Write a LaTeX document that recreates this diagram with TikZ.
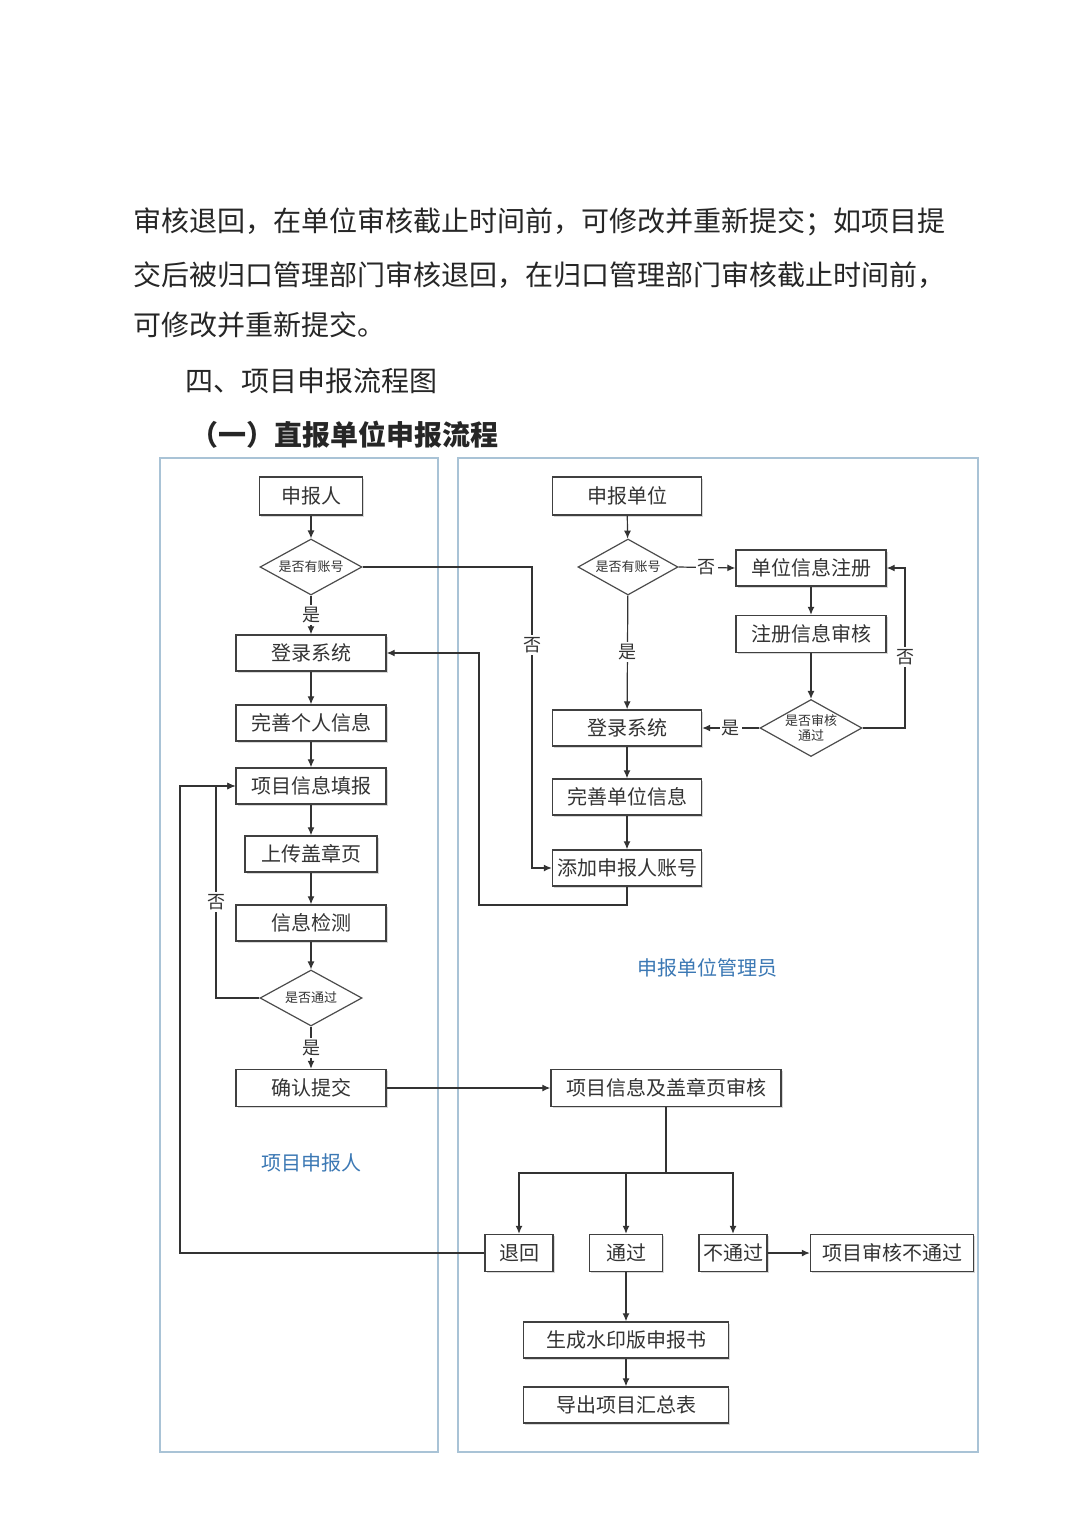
\documentclass[tikz,border=0pt]{standalone}
\usepackage{fontspec}
\newfontfamily\cjk{Noto Sans CJK SC}
\usetikzlibrary{shapes.geometric,arrows.meta,shadows}
\definecolor{lanec}{HTML}{A9C3D6}
\definecolor{bluec}{HTML}{3B78B4}
\begin{document}
\begin{tikzpicture}[x=0.5pt,y=-0.5pt,
 box/.style={draw=black!75, line width=0.7pt, fill=white, minimum height=18pt, inner sep=0pt,
   font=\cjk\fontsize{10}{12}\selectfont, text=black!80,
   drop shadow={shadow xshift=0.8pt, shadow yshift=-0.8pt, fill=black!30}},
 dia/.style={draw=black!70, line width=0.6pt, diamond, inner sep=0pt, minimum width=51pt, minimum height=28pt, fill=white},
 dtext/.style={font=\cjk\fontsize{6.5}{7.5}\selectfont, text=black!80, align=center, inner sep=0pt},
 lbl/.style={font=\cjk\fontsize{9}{10}\selectfont, fill=white, inner sep=1pt, text=black!80},
 line/.style={draw=black!80, line width=0.6pt},
 arr/.style={line, -{Latex[length=4pt,width=3.5pt]}},
 lane/.style={draw=lanec, line width=1pt},
 lanelbl/.style={font=\cjk\fontsize{10}{12}\selectfont, text=bluec},
 para/.style={font=\cjk\fontsize{14}{16}\selectfont, anchor=west, inner sep=0pt, text=black!85}]
\fill[white] (0,0) rectangle (1080,1527);
\useasboundingbox (0,0) rectangle (1080,1527);

% paragraph text
\node[para] (t1) at (133,222) {审核退回，在单位审核截止时间前，可修改并重新提交；如项目提};
\node[para] (t2) at (133,275) {交后被归口管理部门审核退回，在归口管理部门审核截止时间前，};
\node[para] (t3) at (133,325) {可修改并重新提交。};
\node[para] (h1) at (185,381) {四、项目申报流程图};
\node[para, font=\cjk\bfseries\fontsize{14}{16}\selectfont] (h2) at (190,435) {（一）直报单位申报流程};

% lanes
\draw[lane] (160,458) rectangle (438,1452);
\draw[lane] (458,458) rectangle (978,1452);
\node[lanelbl] (lane1) at (311,1163) {项目申报人};
\node[lanelbl] (lane2) at (707,968) {申报单位管理员};

% left column
\node[box, minimum width=51.5pt, minimum height=19pt] (p1) at (311,496) {申报人};
\node[dia] (d1) at (311,567) {};
\node[dtext] (d1t) at (d1) {是否有账号};
\node[box, minimum width=75pt] (login1) at (311,653) {登录系统};
\node[box, minimum width=75pt] (perf1) at (311,723) {完善个人信息};
\node[box, minimum width=75pt] (fill) at (311,786) {项目信息填报};
\node[box, minimum width=66pt] (upload) at (311,854) {上传盖章页};
\node[box, minimum width=75pt] (check) at (311,923) {信息检测};
\node[dia] (d2) at (311,998) {};
\node[dtext] (d2t) at (d2) {是否通过};
\node[box, minimum width=75pt, minimum height=18.5pt] (submit) at (311,1088) {确认提交};

% right column
\node[box, minimum width=74.5pt, minimum height=19pt] (p2) at (627,496) {申报单位};
\node[dia, minimum width=50pt] (rd1) at (628,567) {};
\node[dtext] (rd1t) at (rd1) {是否有账号};
\node[box, minimum width=75pt] (reg) at (811,568) {单位信息注册};
\node[box, minimum width=75pt, minimum height=18.5pt] (rev) at (811,634) {注册信息审核};
\node[dia, minimum height=28.5pt] (rd2) at (811,728) {};
\node[dtext] (rd2t) at (rd2) {是否审核\\通过};
\node[box, minimum width=74.5pt] (login2) at (627,728) {登录系统};
\node[box, minimum width=74.5pt] (perf2) at (627,797) {完善单位信息};
\node[box, minimum width=74.5pt] (add) at (627,868) {添加申报人账号};
\node[box, minimum width=115pt, minimum height=18.5pt] (audit) at (666,1088) {项目信息及盖章页审核};
\node[box, minimum width=34pt, minimum height=18.5pt] (ret) at (519,1253) {退回};
\node[box, minimum width=36.5pt, minimum height=18.5pt] (pass) at (626,1253) {通过};
\node[box, minimum width=34pt, minimum height=18.5pt] (fail) at (733,1253) {不通过};
\node[box, minimum width=81.5pt, minimum height=18.5pt] (failres) at (892,1253) {项目审核不通过};
\node[box, minimum width=102.5pt] (gen) at (626,1340) {生成水印版申报书};
\node[box, minimum width=102.5pt] (exp) at (626,1405) {导出项目汇总表};

% helper coordinates
\coordinate (k1) at (532,567);
\coordinate (k2) at (479,905);
\coordinate (k3) at (216,998);
\coordinate (k4) at (180,1253);
\coordinate (k5) at (905,728);
\coordinate (k6) at (666,1173);

% left connectors
\draw[arr] (p1) -- (d1);
\draw[arr] (d1) -- node[lbl] {是} (login1);
\draw[arr] (login1) -- (perf1);
\draw[arr] (perf1) -- (fill);
\draw[arr] (fill) -- (upload);
\draw[arr] (upload) -- (check);
\draw[arr] (check) -- (d2);
\draw[arr] (d2) -- node[lbl] {是} (submit);
\draw[arr] (d2.west) -- (k3) |- (fill.west);
\node[lbl] (no3) at (216,902) {否};
\draw[arr] (ret.west) -- (k4) |- (fill.west);
\draw[arr] (d1.east) -- (k1) |- (add.west);
\node[lbl] (no1) at (532,645) {否};
\draw[arr] (add.south) |- (k2) |- (login1.east);

% right connectors
\draw[arr] (p2) -- (rd1);
\draw[arr] (rd1.east) -- node[lbl] {否} (reg.west);
\draw[arr] (reg) -- (rev);
\draw[arr] (rev) -- (rd2);
\draw[arr] (rd2.east) -- (k5) |- (reg.east);
\node[lbl] (no2) at (905,657) {否};
\draw[arr] (rd2.west) -- node[lbl] {是} (login2.east);
\draw[arr] (rd1) -- node[lbl] {是} (login2);
\draw[arr] (login2) -- (perf2);
\draw[arr] (perf2) -- (add);
\draw[arr] (submit.east) -- (audit.west);
\draw[line] (audit.south) -- (k6);
\draw[arr] (k6) -| (ret.north);
\draw[arr] (k6) -| (pass.north);
\draw[arr] (k6) -| (fail.north);
\draw[arr] (fail) -- (failres);
\draw[arr] (pass) -- (gen);
\draw[arr] (gen) -- (exp);
\end{tikzpicture}
\end{document}
